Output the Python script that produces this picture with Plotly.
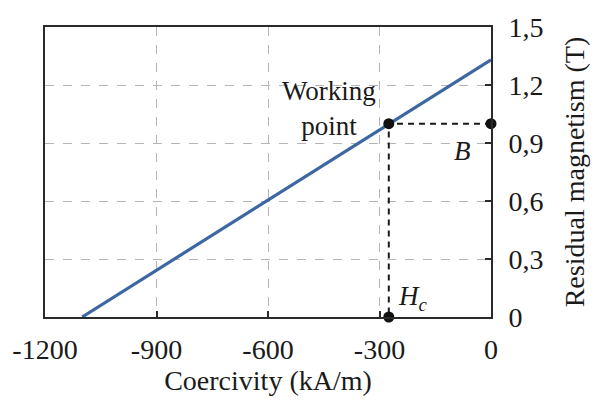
import plotly.graph_objects as go

# Demagnetisation line of the magnet (coercivity vs residual magnetism)
line_h = [-1100, 0]
line_b = [0.0, 1.33]

# Operating point and its projections on the axes
work_h = -275
work_b = 1.0

x_ticks = [-1200, -900, -600, -300, 0]
x_labels = ["-1200", "-900", "-600", "-300", "0"]
y_ticks = [0, 0.3, 0.6, 0.9, 1.2, 1.5]
y_labels = ["0", "0,3", "0,6", "0,9", "1,2", "1,5"]

FONT = "Liberation Serif, Times New Roman, serif"
FS = 28

fig = go.Figure()

fig.add_trace(go.Scatter(
    x=line_h, y=line_b, mode="lines",
    line=dict(color="#3d67a3", width=3.2),
    hoverinfo="skip", showlegend=False,
))

# Dashed projection lines from the working point
fig.add_trace(go.Scatter(
    x=[0, work_h, work_h], y=[work_b, work_b, 0], mode="lines",
    line=dict(color="#1a1a1a", width=2, dash="6px,5px"),
    hoverinfo="skip", showlegend=False, cliponaxis=False,
))

fig.add_trace(go.Scatter(
    x=[work_h, 0, work_h], y=[work_b, work_b, 0], mode="markers",
    marker=dict(color="#111111", size=11),
    hoverinfo="skip", showlegend=False, cliponaxis=False,
))

axis_common = dict(
    showline=True, mirror=True, linecolor="#2a2a2a", linewidth=2,
    ticks="inside", ticklen=6, tickwidth=2, tickcolor="#2a2a2a",
    showgrid=True, gridcolor="#b5b5b5", griddash="dash", gridwidth=1,
    zeroline=False,
    tickfont=dict(family=FONT, size=FS, color="#1a1a1a"),
    title_font=dict(family=FONT, size=FS, color="#1a1a1a"),
)

fig.update_xaxes(
    range=[-1200, 0], tickvals=x_ticks, ticktext=x_labels,
    ticklabelstandoff=6,
    title_text="Coercivity (kA/m)", title_standoff=4,
    **axis_common,
)
fig.update_yaxes(
    range=[0, 1.5], tickvals=y_ticks, ticktext=y_labels,
    side="right", ticklabelstandoff=10,
    title_text="Residual magnetism (T)", title_standoff=22,
    **axis_common,
)

fig.add_annotation(
    x=-435, y=1.08, xref="x", yref="y", showarrow=False,
    text="Working<br>point", align="center",
    font=dict(family=FONT, size=FS - 1, color="#1a1a1a"),
)
fig.add_annotation(
    x=-78, y=0.86, xref="x", yref="y", showarrow=False,
    text="<i>B</i>", font=dict(family=FONT, size=FS - 1, color="#1a1a1a"),
)
fig.add_annotation(
    x=-209, y=0.1, xref="x", yref="y", showarrow=False,
    text="<i>H<sub>c</sub></i>", font=dict(family=FONT, size=FS - 1, color="#1a1a1a"),
)

fig.update_layout(
    width=605, height=401,
    margin=dict(l=44, r=114, t=17, b=84),
    paper_bgcolor="white", plot_bgcolor="white",
    showlegend=False,
)

fig.write_html("out.html")
